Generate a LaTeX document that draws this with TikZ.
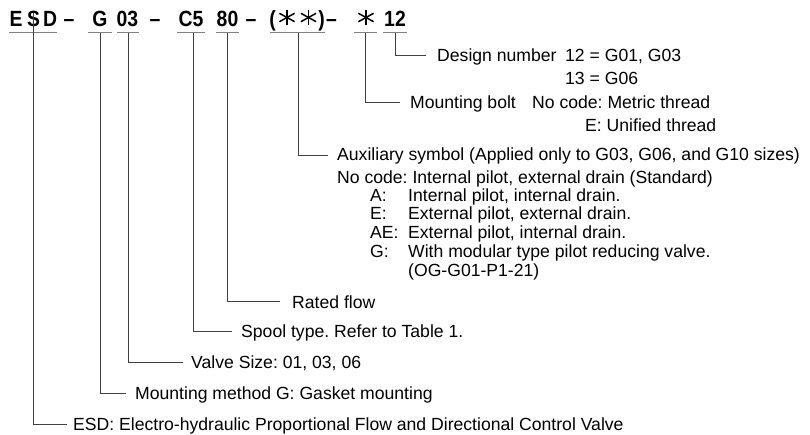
\documentclass[tikz,border=0pt]{standalone}
\usepackage{fontspec}
\setmainfont{Liberation Sans}
\newfontfamily\hdfont[FakeStretch=0.88]{Liberation Sans Bold}
\begin{document}
\frenchspacing
\begin{tikzpicture}[x=1pt,y=-1pt,
  lbl/.style={anchor=base west, inner sep=0pt, font=\fontsize{17.6}{20}\selectfont},
  hd/.style={anchor=base, inner sep=0pt, font=\fontsize{22}{24}\hdfont},
  astk/.style={draw=black, line width=1.5pt},
  uline/.style={draw=black!50, line width=1pt},
  conn/.style={draw=black!75, line width=1pt}]
\useasboundingbox (0,0) rectangle (810,434);
% header
\node[hd] (hE) at (16,26.5) {E};
\node[hd] (hS) at (33.7,26.5) {S};
\node[hd] (hD) at (50,26.5) {D};
\node[hd] (d1) at (69,26.5) {–};
\node[hd] (hG) at (100,26.5) {G};
\node[hd] (h03) at (127.5,26.5) {03};
\node[hd] (d2) at (155,26.5) {–};
\node[hd] (hC5) at (191,26.5) {C5};
\node[hd] (h80) at (227.5,26.5) {80};
\node[hd] (d3) at (251,26.5) {–};
\node[hd] (pl) at (272.5,26.5) {(};
\coordinate (a1) at (287,17.5);
\coordinate (a2) at (308.5,17.5);
\node[hd] (pr) at (321.5,26.5) {)};
\node[hd] (d4) at (331.5,26.5) {–};
\coordinate (a3) at (366,17.5);
\node[hd] (h12) at (395,26.5) {12};
\foreach \c in {a1,a2,a3}{
  \draw[astk] (\c) ++(0,-7.8) -- ++(0,15.6);
  \draw[astk] (\c) ++(-7.6,-4.2) -- ++(15.2,8.4);
  \draw[astk] (\c) ++(-7.6,4.2) -- ++(15.2,-8.4);
}
% underlines
\draw[uline] (9,32.5) -- (57,32.5);
\draw[uline] (88,32.5) -- (112,32.5);
\draw[uline] (117,32.5) -- (139,32.5);
\draw[uline] (177,32.5) -- (205,32.5);
\draw[uline] (216,32.5) -- (239,32.5);
\draw[uline] (270,32.5) -- (325,32.5);
\draw[uline] (354,32.5) -- (377,32.5);
\draw[uline] (383,32.5) -- (407,32.5);
% texts
\node[lbl] (tDes) at (437,61.5) {Design number};
\node[lbl] (tDes1) at (565,61.5) {12 = G01, G03};
\node[lbl] (tDes2) at (565,84.5) {13 = G06};
\node[lbl] (tBolt) at (410,108.5) {Mounting bolt};
\node[lbl] (tBolt1) at (532,108.5) {No code: Metric thread};
\node[lbl] (tBolt2) at (585,131) {E: Unified thread};
\node[lbl] (tAux) at (337,160) {Auxiliary symbol (Applied only to G03, G06, and G10 sizes)};
\node[lbl] (tAux0) at (337,183) {No code: Internal pilot, external drain (Standard)};
\node[lbl] (kA) at (370,201.5) {A:};
\node[lbl] (vA) at (408,201.5) {Internal pilot, internal drain.};
\node[lbl] (kE) at (370,219.5) {E:};
\node[lbl] (vE) at (408,219.5) {External pilot, external drain.};
\node[lbl] (kAE) at (370,238) {AE:};
\node[lbl] (vAE) at (408,238) {External pilot, internal drain.};
\node[lbl] (kG) at (370,257) {G:};
\node[lbl] (vG) at (408,257) {With modular type pilot reducing valve.};
\node[lbl] (vOG) at (408,276) {(OG-G01-P1-21)};
\node[lbl] (tRate) at (292,308) {Rated flow};
\node[lbl] (tSpool) at (241,337) {Spool type. Refer to Table 1.};
\node[lbl] (tSize) at (191,368) {Valve Size: 01, 03, 06};
\node[lbl] (tMount) at (135,399) {Mounting method G: Gasket mounting};
\node[lbl] (tESD) at (73,430) {ESD: Electro-hydraulic Proportional Flow and Directional Control Valve};
% connector ends
\coordinate (sESD) at (33.3,13);
\coordinate (sG) at (100,32.5);
\coordinate (s03) at (128,32.5);
\coordinate (sC5) at (193,32.5);
\coordinate (s80) at (227,32.5);
\coordinate (sAux) at (298,32.5);
\coordinate (sBolt) at (365.5,32.5);
\coordinate (sDes) at (395.5,32.5);
\coordinate (eESD) at (67,424);
\coordinate (eG) at (126,393);
\coordinate (e03) at (183,362);
\coordinate (eC5) at (232,331);
\coordinate (e80) at (280,301);
\coordinate (eAux) at (328,155);
\coordinate (eBolt) at (400,102);
\coordinate (eDes) at (426,55);
\draw[conn] (sESD) |- (eESD);
\draw[conn] (sG) |- (eG);
\draw[conn] (s03) |- (e03);
\draw[conn] (sC5) |- (eC5);
\draw[conn] (s80) |- (e80);
\draw[conn] (sAux) |- (eAux);
\draw[conn] (sBolt) |- (eBolt);
\draw[conn] (sDes) |- (eDes);
\end{tikzpicture}
\end{document}
